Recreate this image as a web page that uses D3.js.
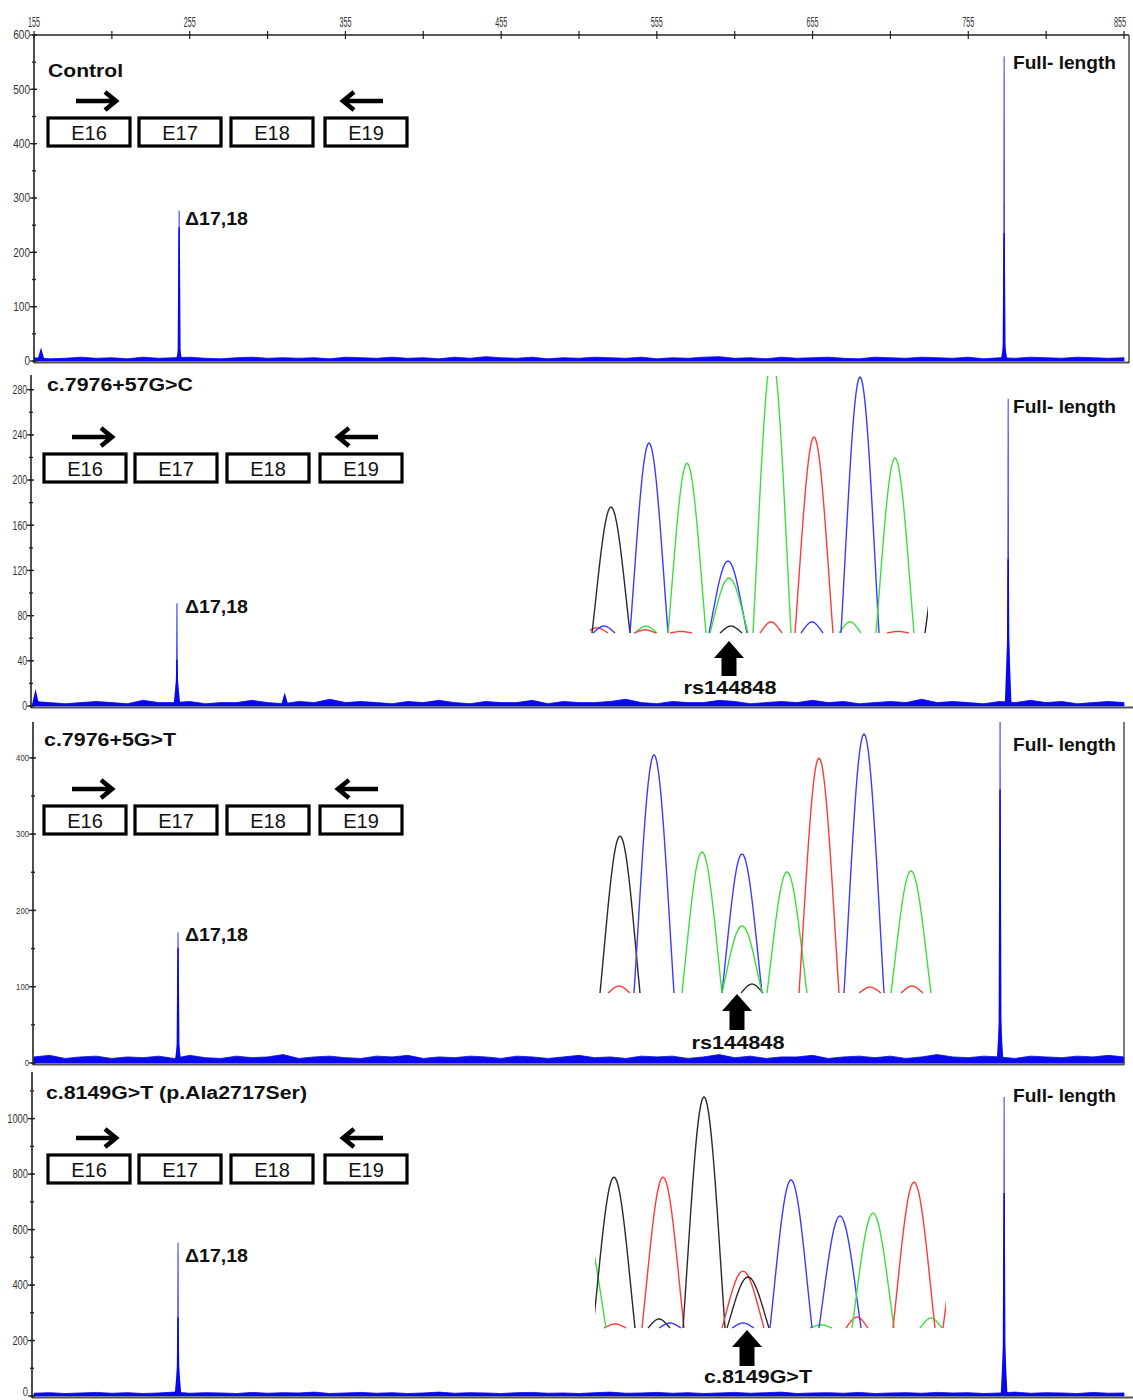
<!DOCTYPE html>
<html>
<head>
<meta charset="utf-8">
<script src="https://cdn.jsdelivr.net/npm/d3@7"></script>
<style>
  body { margin: 0; background: #fff; }
  svg { display: block; }
</style>
</head>
<body>
<svg id="fig" width="1133" height="1400"></svg>
<script>
// ---------- data ----------
// fragment size axis (bp)
const sizeDomain = [155, 855];
const sizeLabels = [155, 255, 355, 455, 555, 655, 755, 855];
const sizeMinorStep = 50;

// one panel per sample
const panelNames = ["Control", "c.7976+57G>C", "c.7976+5G>T", "c.8149G>T (p.Ala2717Ser)"];
const exonNames = ["E16", "E17", "E18", "E19"];
const fullLabel = "Full- length";
const deltaLabel = "\u039417,18";

// fluorescence axis per panel
const yTop = [600, 293, 447, 1168];
const yMajorTicks = [
  [0, 100, 200, 300, 400, 500, 600],
  [0, 40, 80, 120, 160, 200, 240, 280],
  [0, 100, 200, 300, 400],
  [0, 200, 400, 600, 800, 1000]
];
const yMinorStep = [50, 20, 50, 100];

// capillary peaks: [size, apex height, shoulder height, foot height]
const deltaPeaks = [
  [248.2, 277, 246, 20],
  [246.8, 91, 41, 23],
  [247.5, 171, 151, 26],
  [247.5, 553, 282, 107]
];
const fullPeaks = [
  [778.0, 561, 235, 29],
  [780.6, 272, 130, 60],
  [775.4, 460, 359, 57],
  [778.0, 1078, 732, 189]
];
// small extra peaks: [size, height]
const minorPeaks = [
  [[159.5, 25]],
  [[156.0, 15], [316.0, 12]],
  [],
  []
];

// baseline noise level read along the run (evenly spaced over 155-855 bp)
const noise1 = [6,4,5,7,5,6,4,7,5,6, 7,5,4,6,7,5,6,5,6,4, 7,6,5,7,5,6,4,7,5,8, 6,5,7,4,6,5,7,6,5,7,
                4,6,5,7,8,5,6,4,7,5, 6,7,5,4,7,6,5,7,6,5, 7,4,6,5,7,6,5,7,6,5, 6];
const noise2 = [4,3,2,3,4,3,2,5,3,3, 4,2,3,3,5,3,2,4,3,6, 3,4,3,2,4,3,5,3,2,4, 3,3,5,2,4,3,3,4,6,3,
                2,4,3,3,5,4,2,3,4,3, 5,3,4,2,3,4,3,6,3,4, 3,2,4,3,5,3,4,2,3,4, 3];
const noise3 = [8,10,6,8,9,6,8,7,9,6, 10,7,6,9,7,8,11,6,8,9, 7,6,9,8,10,6,8,7,9,8,
                6,9,8,6,8,10,7,8,6,9, 8,9,6,8,11,7,9,6,8,8, 10,6,8,9,7,9,6,8,11,8,
                7,9,8,6,9,8,7,9,8,10, 8];
const noise4 = [10,12,9,11,13,10,12,9,11,14, 10,12,11,9,13,10,12,11,14,9, 11,13,10,12,9,11,14,10,12,11,
                9,12,13,10,11,9,12,14,10,11, 13,10,12,9,11,13,10,12,14,9, 11,12,10,13,9,11,12,10,13,11,
                12,9,11,14,10,12,11,9,13,10, 11];
const noiseLevels = [noise1, noise2, noise3, noise4];

// Sanger traces (G black, C blue, A green, T red); position in scan points, signal 0-1000
const seq1Bases   = ["G", "C", "A", "C", "A", "A", "T", "C", "A", "G"];
const seq1Pos     = [21, 59, 97, 138, 139, 182, 224, 270, 305, 354];
const seq1Signal  = [490, 739, 661, 280, 214, 1080, 763, 996, 681, 405];
const seq1MinorBases  = ["T", "C", "A", "T", "T", "G", "T", "C", "A", "T"];
const seq1MinorPos    = [7, 14, 56, 55, 91, 141, 181, 222, 260, 308];
const seq1MinorSignal = [20, 27, 27, 12, 6, 27, 43, 43, 43, 6];

const seq2Bases   = ["G", "C", "A", "C", "A", "A", "T", "C", "A"];
const seq2Pos     = [22, 56, 104, 144, 144, 189, 221, 266, 313];
const seq2Signal  = [613, 930, 551, 543, 262, 473, 918, 1012, 477];
const seq2MinorBases  = ["T", "G", "T", "T"];
const seq2MinorPos    = [21, 154, 272, 314];
const seq2MinorSignal = [27, 35, 23, 27];

const seq3Bases   = ["A", "G", "T", "G", "T", "G", "C", "C", "A", "T", "T"];
const seq3Pos     = [-10, 19, 68, 109, 148, 153, 196, 245, 278, 319, 369];
const seq3Signal  = [415, 634, 634, 971, 239, 214, 622, 471, 483, 613, 500];
const seq3MinorBases  = ["T", "G", "C", "C", "A", "T", "A"];
const seq3MinorPos    = [20, 64, 75, 148, 226, 262, 336];
const seq3MinorSignal = [17, 38, 21, 21, 13, 46, 42];

const variantLabels = ["rs144848", "rs144848", "c.8149G>T"];

// ---------- drawing ----------
const svg = d3.select("#fig");
const FONT = "'Liberation Sans', Arial, Helvetica, sans-serif";
const TRACE = "#0808f0";
const baseColor = { G: "#2a2a2a", C: "#3b3bff", A: "#3ede3e", T: "#ff3a3a" };

svg.append("rect").attr("width", 1133).attr("height", 1400).attr("fill", "#fff");

const x = d3.scaleLinear().domain(sizeDomain).range([34, 1124]);

const panels = [
  { top: 35,   zero: 361,  axisX: 34, right: 1129, tick: 12, labW: 5.6,
    nameX: 48, nameY: 77,   nameW: 75,  boxX: [48, 139, 231, 325], boxY: 118,
    fullY: 69,   deltaY: 225 },
  { top: 375,  zero: 706,  axisX: 31, right: 1133, tick: 12, labW: 4.8,
    nameX: 47, nameY: 391,  nameW: 146, boxX: [44, 135, 227, 320], boxY: 454,
    fullY: 413,  deltaY: 613 },
  { top: 722,  zero: 1063, axisX: 33, right: 1124, tick: 9,  labW: 4.3,
    nameX: 44, nameY: 746,  nameW: 132, boxX: [44, 135, 227, 320], boxY: 806,
    fullY: 751,  deltaY: 941 },
  { top: 1072, zero: 1396, axisX: 32, right: 1133, tick: 12, labW: 5.2,
    nameX: 46, nameY: 1099, nameW: 261, boxX: [48, 139, 231, 325], boxY: 1155,
    fullY: 1102, deltaY: 1262 }
];

function label(g, str, px, py, size, width, opts = {}) {
  const t = g.append("text")
    .attr("x", px).attr("y", py)
    .attr("font-family", FONT)
    .attr("font-size", size)
    .attr("font-weight", opts.weight || "bold")
    .attr("fill", opts.fill || "#111")
    .attr("text-anchor", opts.anchor || "start")
    .text(str);
  if (width) t.attr("textLength", width).attr("lengthAdjust", "spacingAndGlyphs");
  return t;
}

// top size axis
const topAxis = svg.append("g");
topAxis.append("line")
  .attr("x1", x(155)).attr("x2", x(855) + 5).attr("y1", 35).attr("y2", 35)
  .attr("stroke", "#222").attr("stroke-width", 1.6);
d3.range(155, 856, sizeMinorStep).forEach(v => {
  topAxis.append("line").attr("x1", x(v)).attr("x2", x(v)).attr("y1", 31).attr("y2", 39)
    .attr("stroke", "#222").attr("stroke-width", 1.2);
});
sizeLabels.forEach((v, k) => {
  const last = k === sizeLabels.length - 1;
  label(topAxis, String(v), last ? 1126 : x(v), 27, 14, 12,
    { weight: "normal", anchor: last ? "end" : "middle", fill: "#333" });
});

// primer arrow (open chevron head)
function primerArrow(g, x1, x2, y) {
  const dir = Math.sign(x2 - x1);
  g.append("path")
    .attr("d", `M${x1},${y}L${x2},${y}M${x2 - dir * 11},${y - 9}L${x2},${y}L${x2 - dir * 11},${y + 9}`)
    .attr("fill", "none").attr("stroke", "#000").attr("stroke-width", 4.6)
    .attr("stroke-linejoin", "miter").attr("stroke-linecap", "butt");
}

// filled up arrow marking the variant position
function markArrow(g, cx, tipY, bottomY) {
  const hw = 15, sw = 7.5, hh = 17;
  g.append("path")
    .attr("d", `M${cx},${tipY}L${cx + hw},${tipY + hh}L${cx + sw},${tipY + hh}L${cx + sw},${bottomY}` +
               `L${cx - sw},${bottomY}L${cx - sw},${tipY + hh}L${cx - hw},${tipY + hh}Z`)
    .attr("fill", "#000");
}

// Sanger peak outline: rounded apex, sides meeting the baseline
function sangerPath(xs, ys, pos, signal, halfW) {
  const k = 0.8, floor = Math.exp(-k);
  const pts = d3.range(-1, 1.0001, 1 / 14).map(t => {
    const f = (Math.exp(-k * t * t) - floor) / (1 - floor);
    return [xs(pos + t * halfW), ys(signal * Math.max(0, f))];
  });
  return d3.line()(pts);
}

const traces = [
  { panel: 1, x0: 590, x1: 928, span: 338, base: 633, top1000: 376, halfW: 19,
    bases: seq1Bases, pos: seq1Pos, sig: seq1Signal,
    mBases: seq1MinorBases, mPos: seq1MinorPos, mSig: seq1MinorSignal,
    arrow: [729, 641, 676], lab: [730, 694, 93] },
  { panel: 2, x0: 598, x1: 932, span: 334, base: 993, top1000: 737, halfW: 20,
    bases: seq2Bases, pos: seq2Pos, sig: seq2Signal,
    mBases: seq2MinorBases, mPos: seq2MinorPos, mSig: seq2MinorSignal,
    arrow: [737, 994, 1030], lab: [738, 1049, 93] },
  { panel: 3, x0: 595, x1: 946, span: 351, base: 1328, top1000: 1090, halfW: 21,
    bases: seq3Bases, pos: seq3Pos, sig: seq3Signal,
    mBases: seq3MinorBases, mPos: seq3MinorPos, mSig: seq3MinorSignal,
    arrow: [747, 1330, 1366], lab: [758, 1383, 108] }
];

panels.forEach((p, i) => {
  const g = svg.append("g");
  const y = d3.scaleLinear().domain([0, yTop[i]]).range([p.zero, p.top]);

  const clipId = "clip" + i;
  svg.append("clipPath").attr("id", clipId).append("rect")
    .attr("x", p.axisX).attr("y", p.top).attr("width", 1133 - p.axisX).attr("height", p.zero - p.top + 1);
  const plot = g.append("g").attr("clip-path", `url(#${clipId})`);

  // baseline noise band
  const nz = noiseLevels[i];
  const nx = d3.scaleLinear().domain([0, nz.length - 1]).range(sizeDomain);
  plot.append("path")
    .datum(nz)
    .attr("d", d3.area().x((d, j) => x(nx(j))).y0(y(0)).y1(d => y(d)))
    .attr("fill", TRACE).attr("stroke", TRACE).attr("stroke-width", 0.8);

  // capillary peaks: apex line, shoulder, foot (trapezoids in bp units)
  const compBase = [0.6, 1.0, 2.2];
  const compTop = [0.3, 0.45, 0.6];
  const drawPeak = (pk) => {
    const [s, ...hs] = pk;
    hs.forEach((h, c) => {
      plot.append("path")
        .attr("d", d3.line()([[x(s - compBase[c]), y(0)], [x(s - compTop[c]), y(h)],
                              [x(s + compTop[c]), y(h)], [x(s + compBase[c]), y(0)]]) + "Z")
        .attr("fill", c === 0 ? "#2525ff" : TRACE);
    });
  };
  drawPeak(deltaPeaks[i]);
  drawPeak(fullPeaks[i]);
  minorPeaks[i].forEach(([s, h]) => {
    plot.append("path")
      .attr("d", d3.line()([[x(s - 2.5), y(0)], [x(s), y(h)], [x(s + 2.5), y(0)]]) + "Z")
      .attr("fill", TRACE);
  });

  // frame: bottom rule, left axis, right edge
  g.append("line").attr("x1", p.axisX).attr("x2", p.right).attr("y1", p.zero + 1.5).attr("y2", p.zero + 1.5)
    .attr("stroke", "#555").attr("stroke-width", 2);
  g.append("line").attr("x1", p.axisX).attr("x2", p.axisX).attr("y1", p.top).attr("y2", p.zero + 2)
    .attr("stroke", "#222").attr("stroke-width", 1.6);
  if (i === 0 || i === 2) {
    g.append("line").attr("x1", p.right).attr("x2", p.right).attr("y1", p.top).attr("y2", p.zero + 2)
      .attr("stroke", "#444").attr("stroke-width", 1.4);
  }

  // fluorescence ticks
  d3.range(0, yTop[i] + 0.1, yMinorStep[i]).forEach(v => {
    g.append("line").attr("x1", p.axisX - 2).attr("x2", p.axisX + 2).attr("y1", y(v)).attr("y2", y(v))
      .attr("stroke", "#222").attr("stroke-width", 1.3);
  });
  yMajorTicks[i].forEach(v => {
    g.append("line").attr("x1", p.axisX - 4).attr("x2", p.axisX + 3).attr("y1", y(v)).attr("y2", y(v))
      .attr("stroke", "#222").attr("stroke-width", 1.3);
    const s = String(v);
    const ly = Math.min(y(v) + p.tick * 0.36, 1396);
    label(g, s, p.axisX - 4, ly, p.tick, s.length * p.labW,
      { weight: "normal", anchor: "end", fill: "#333" });
  });

  // titles
  label(g, panelNames[i], p.nameX, p.nameY, 18, p.nameW);
  label(g, fullLabel, 1013, p.fullY, 18, 103);
  label(g, deltaLabel, 185, p.deltaY, 18, 63);

  // exon map with primers
  exonNames.forEach((e, k) => {
    g.append("rect").attr("x", p.boxX[k]).attr("y", p.boxY).attr("width", 82).attr("height", 28)
      .attr("fill", "#fff").attr("stroke", "#000").attr("stroke-width", 3.2);
    label(g, e, p.boxX[k] + 41, p.boxY + 21.5, 20, null, { weight: "normal", anchor: "middle", fill: "#111" });
  });
  primerArrow(g, p.boxX[0] + 28, p.boxX[0] + 68, p.boxY - 17);
  primerArrow(g, p.boxX[3] + 58, p.boxX[3] + 18, p.boxY - 17);
});

// Sanger sequence inserts
traces.forEach((tr, ti) => {
  const p = panels[tr.panel];
  const g = svg.append("g");
  const clipId = "seqclip" + ti;
  svg.append("clipPath").attr("id", clipId).append("rect")
    .attr("x", tr.x0).attr("y", p.top + 1).attr("width", tr.x1 - tr.x0).attr("height", tr.base - p.top + 1);
  const body = g.append("g").attr("clip-path", `url(#${clipId})`);
  const xs = d3.scaleLinear().domain([0, tr.span]).range([tr.x0, tr.x1]);
  const ys = d3.scaleLinear().domain([0, 1000]).range([tr.base, tr.top1000]);

  tr.mBases.forEach((b, k) => {
    body.append("path").attr("d", sangerPath(xs, ys, tr.mPos[k], tr.mSig[k], 11))
      .attr("fill", "none").attr("stroke", baseColor[b]).attr("stroke-width", 1.4);
  });
  tr.bases.forEach((b, k) => {
    body.append("path").attr("d", sangerPath(xs, ys, tr.pos[k], tr.sig[k], tr.halfW))
      .attr("fill", "none").attr("stroke", baseColor[b]).attr("stroke-width", 1.4);
  });

  markArrow(g, tr.arrow[0], tr.arrow[1], tr.arrow[2]);
  label(g, variantLabels[ti], tr.lab[0], tr.lab[1], 18, tr.lab[2], { anchor: "middle" });
});
</script>
</body>
</html>
